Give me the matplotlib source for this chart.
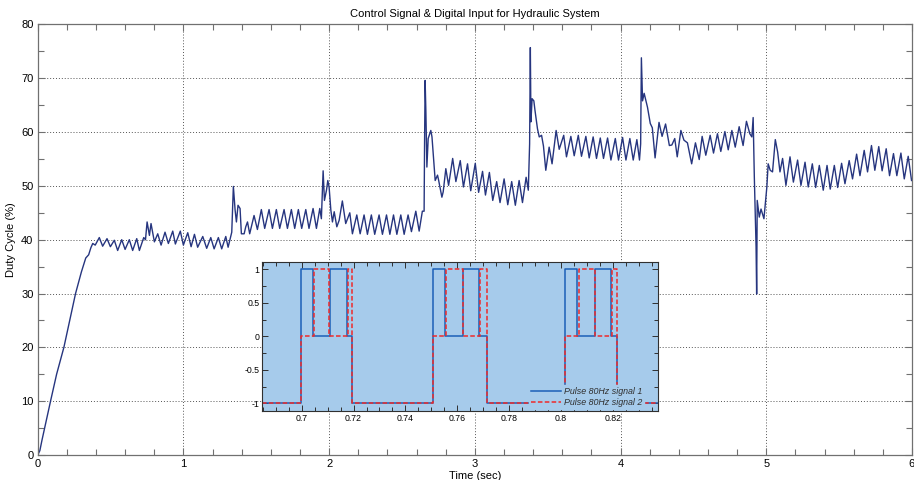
import numpy as np
import matplotlib
matplotlib.use("Agg")
import matplotlib.pyplot as plt
from matplotlib.ticker import MultipleLocator

plt.rcParams['font.family'] = ['Liberation Sans', 'DejaVu Sans']

# ---------------- main control signal ----------------
ramp_t = [0.000, 0.015, 0.030, 0.060, 0.090, 0.130, 0.180, 0.220, 0.260, 0.300,
          0.330, 0.350, 0.365, 0.378, 0.395]
ramp_v = [0.0, 0.8, 2.8, 6.5, 10.2, 15.0, 20.0, 25.0, 30.0, 34.0,
          36.6, 37.2, 38.5, 39.3, 39.0]

stage1_t = [0.423, 0.446, 0.476, 0.499, 0.526, 0.549, 0.577, 0.600, 0.629, 0.652,
            0.680, 0.698, 0.728, 0.740, 0.751, 0.767, 0.778, 0.801, 0.824, 0.847,
            0.874, 0.897, 0.927, 0.945, 0.979, 1.000, 1.030, 1.053, 1.076, 1.098,
            1.133, 1.160, 1.188, 1.211, 1.240, 1.263, 1.291, 1.307, 1.332]
stage1_v = [40.4, 38.8, 40.2, 38.7, 39.9, 38.0, 40.0, 38.2, 40.0, 38.0,
            40.2, 38.0, 40.4, 40.0, 43.3, 40.8, 43.0, 39.6, 41.1, 39.0,
            41.4, 39.3, 41.6, 39.2, 41.6, 39.0, 41.3, 38.7, 41.0, 38.6,
            40.6, 38.4, 40.4, 38.3, 40.4, 38.3, 40.6, 38.6, 41.4]

stage2_t = [1.343, 1.355, 1.364, 1.375, 1.389, 1.398, 1.417, 1.428, 1.440, 1.455,
            1.485, 1.508, 1.535, 1.558, 1.588, 1.611, 1.638, 1.661, 1.691, 1.714,
            1.741, 1.764, 1.789, 1.812, 1.840, 1.862, 1.890, 1.913, 1.936, 1.947,
            1.959, 1.968, 1.982, 1.991, 2.000, 2.012, 2.023, 2.035, 2.053, 2.069,
            2.091, 2.114, 2.142, 2.160, 2.190, 2.213, 2.240, 2.263, 2.290, 2.313,
            2.343, 2.366, 2.394, 2.417, 2.442, 2.465, 2.492, 2.515, 2.542, 2.565,
            2.595, 2.618, 2.640, 2.652]
stage2_v = [49.9, 45.5, 43.3, 46.4, 45.8, 41.1, 41.1, 42.4, 43.3, 41.1,
            44.5, 41.9, 45.6, 42.1, 45.6, 42.1, 45.6, 42.1, 45.6, 42.1,
            45.6, 42.1, 45.6, 42.1, 45.6, 42.1, 45.8, 42.1, 45.8, 43.9,
            52.8, 47.3, 49.2, 51.0, 49.8, 45.5, 43.3, 45.2, 42.4, 43.6,
            47.2, 43.0, 45.0, 41.1, 44.6, 41.1, 44.6, 41.0, 44.6, 41.0,
            44.6, 41.0, 44.6, 41.0, 44.6, 41.0, 44.6, 41.0, 44.6, 41.5,
            45.3, 41.6, 45.3, 45.3]

stage3_t = [2.655, 2.659, 2.664, 2.671, 2.680, 2.698, 2.706, 2.728, 2.744, 2.752,
            2.774, 2.783, 2.801, 2.820, 2.848, 2.870, 2.900, 2.922, 2.950, 2.972,
            3.003, 3.026, 3.053, 3.073, 3.100, 3.123, 3.150, 3.173, 3.201, 3.226,
            3.253, 3.278, 3.304, 3.327, 3.352, 3.367]
stage3_v = [57.5, 69.6, 64.0, 53.5, 58.8, 60.3, 59.1, 51.0, 52.0, 51.0,
            47.9, 48.9, 53.2, 50.1, 55.1, 50.8, 54.7, 49.8, 54.1, 49.1,
            54.2, 48.8, 52.7, 48.3, 52.5, 47.3, 50.8, 46.9, 51.3, 46.5,
            50.8, 46.4, 51.0, 46.9, 51.6, 49.2]

stage4_t = [3.376, 3.381, 3.385, 3.393, 3.405, 3.413, 3.430, 3.442, 3.458, 3.471,
            3.487, 3.510, 3.530, 3.558, 3.579, 3.610, 3.629, 3.659, 3.682, 3.710,
            3.732, 3.762, 3.785, 3.812, 3.835, 3.861, 3.883, 3.911, 3.934, 3.964,
            3.986, 4.014, 4.037, 4.064, 4.087, 4.112, 4.130, 4.138]
stage4_v = [57.8, 75.7, 61.9, 66.2, 65.8, 64.0, 60.6, 59.1, 59.4, 57.4,
            52.9, 57.2, 54.1, 60.3, 56.8, 59.4, 55.4, 59.2, 55.6, 59.4,
            55.5, 59.2, 55.2, 59.1, 55.1, 58.9, 55.1, 58.9, 54.8, 58.8,
            54.8, 59.0, 54.8, 58.8, 54.8, 58.6, 54.8, 57.8]

stage5_t = [4.143, 4.151, 4.162, 4.185, 4.204, 4.218, 4.237, 4.264, 4.285, 4.309,
            4.335, 4.352, 4.372, 4.389, 4.414, 4.435, 4.459, 4.488, 4.514, 4.540,
            4.560, 4.585, 4.615, 4.638, 4.665, 4.688, 4.716, 4.739, 4.764, 4.787,
            4.814, 4.841, 4.864, 4.887, 4.901, 4.910]
stage5_v = [73.8, 65.8, 67.2, 64.6, 61.6, 60.8, 55.2, 61.8, 59.2, 61.5,
            57.5, 57.6, 58.8, 55.4, 60.3, 58.5, 58.0, 54.1, 58.0, 54.9,
            59.2, 55.7, 59.4, 56.1, 59.7, 56.4, 60.1, 56.7, 60.3, 57.2,
            61.0, 57.5, 62.0, 59.7, 59.1, 62.7]

stage6_t = [4.918, 4.930, 4.934, 4.938, 4.952, 4.964, 4.984, 5.004, 5.013, 5.027,
            5.043, 5.062, 5.078, 5.094, 5.112, 5.135, 5.163, 5.186, 5.215, 5.238,
            5.266, 5.288, 5.316, 5.339, 5.364, 5.391, 5.417, 5.439, 5.467, 5.490,
            5.517, 5.540, 5.569, 5.592, 5.620, 5.643, 5.672, 5.695, 5.722, 5.745,
            5.772, 5.795, 5.823, 5.846, 5.873, 5.896, 5.924, 5.947, 5.974, 5.997]
stage6_v = [51.7, 38.7, 29.9, 47.3, 44.2, 45.7, 43.9, 49.8, 54.1, 52.9,
            52.6, 58.6, 56.3, 52.6, 55.1, 50.1, 55.4, 50.7, 54.8, 50.1,
            54.4, 49.8, 54.1, 49.7, 53.8, 49.2, 53.8, 49.4, 53.8, 49.7,
            54.2, 50.4, 54.7, 51.3, 55.9, 51.9, 56.6, 52.6, 57.5, 52.9,
            57.3, 52.8, 56.9, 51.9, 56.0, 51.9, 56.1, 51.3, 55.5, 51.0]

time_s = ramp_t + stage1_t + stage2_t + stage3_t + stage4_t + stage5_t + stage6_t
duty_pct = ramp_v + stage1_v + stage2_v + stage3_v + stage4_v + stage5_v + stage6_v

# ---------------- inset pulse signals (edge times and levels) ----------------
sig1_t = [0.6848, 0.6997, 0.7045, 0.7111, 0.7176, 0.7195, 0.7507, 0.7554, 0.7624,
          0.7685, 0.7716, 0.8015, 0.8064, 0.8132, 0.8193, 0.8218, 0.8376]
sig1_v = [-1, 1, 0, 1, 0, -1, 1, 0, 1, 0, -1, 1, 0, 1, 0, -1, -1]
sig2_t = [0.6848, 0.6997, 0.7049, 0.7107, 0.7180, 0.7195, 0.7507, 0.7558, 0.7624,
          0.7688, 0.7716, 0.8015, 0.8068, 0.8132, 0.8196, 0.8218, 0.8376]
sig2_v = [-1, 0, 1, 0, 1, -1, 0, 1, 0, 1, -1, 0, 1, 0, 1, -1, -1]

main_xticks = [0, 1, 2, 3, 4, 5, 6]
main_yticks = [0, 10, 20, 30, 40, 50, 60, 70, 80]
inset_xticks = [0.70, 0.72, 0.74, 0.76, 0.78, 0.80, 0.82]
inset_xlabels = ['0.7', '0.72', '0.74', '0.76', '0.78', '0.8', '0.82']
inset_yticks = [-1, -0.5, 0, 0.5, 1]
inset_ylabels = ['-1', '-0.5', '0', '0.5', '1']

# ---------------- figure ----------------
fig = plt.figure(figsize=(9.14, 4.8), dpi=100)
ax = fig.add_axes([0.0412, 0.0521, 0.9566, 0.897])

ax.plot(time_s, duty_pct, color='#26357f', lw=1.0)
ax.set_xlim(0, 6)
ax.set_ylim(0, 80)
ax.set_xticks(main_xticks)
ax.set_yticks(main_yticks)
ax.xaxis.set_minor_locator(MultipleLocator(0.2))
ax.yaxis.set_minor_locator(MultipleLocator(5))
ax.tick_params(which='both', direction='in', top=True, right=True,
               color='#707070', labelsize=8, pad=3)
ax.tick_params(which='major', length=5, width=0.8)
ax.tick_params(which='minor', length=4, width=0.8)
ax.grid(True, which='major', linestyle=(0, (1, 2)), color='#555555', lw=0.7)
for s in ax.spines.values():
    s.set_color('#707070')
    s.set_linewidth(0.9)
ax.set_title('Control Signal & Digital Input for Hydraulic System', fontsize=8, pad=5)
ax.set_xlabel('Time (sec)', fontsize=8, labelpad=1)
ax.set_ylabel('Duty Cycle (%)', fontsize=8, labelpad=4)

# inset
ins = fig.add_axes([0.287, 0.1438, 0.4333, 0.3098])
ins.set_facecolor('#a6cbeb')
ins.plot(sig1_t, sig1_v, drawstyle='steps-post', color='#1b5fb8', lw=1.1,
         label='Pulse 80Hz signal 1')
ins.plot(sig2_t, sig2_v, drawstyle='steps-post', color='#ee2a2a', lw=1.1,
         linestyle=(0, (3, 1.5)), label='Pulse 80Hz signal 2')
ins.set_xlim(0.6848, 0.8376)
ins.set_ylim(-1.115, 1.104)
ins.set_xticks(inset_xticks)
ins.set_xticklabels(inset_xlabels)
ins.set_yticks(inset_yticks)
ins.set_yticklabels(inset_ylabels)
ins.xaxis.set_minor_locator(MultipleLocator(0.005))
ins.yaxis.set_minor_locator(MultipleLocator(0.25))
ins.tick_params(which='both', direction='in', top=True, right=True,
                color='#303030', labelsize=6.3, pad=2)
ins.tick_params(which='major', length=4, width=0.7)
ins.tick_params(which='minor', length=3, width=0.7)
for s in ins.spines.values():
    s.set_color('#303030')
    s.set_linewidth(0.8)
leg = ins.legend(loc='lower right', bbox_to_anchor=(0.963, 0.015),
                 fontsize=6.4, frameon=True, fancybox=False,
                 facecolor='#a6cbeb', edgecolor='#a6cbeb', framealpha=1.0,
                 handlelength=3.4, handletextpad=0.3, labelspacing=0.2,
                 borderpad=0.2, borderaxespad=0.0)
for txt in leg.get_texts():
    txt.set_fontstyle('italic')
    txt.set_color('#303030')

fig.savefig('out.png', dpi=100)
